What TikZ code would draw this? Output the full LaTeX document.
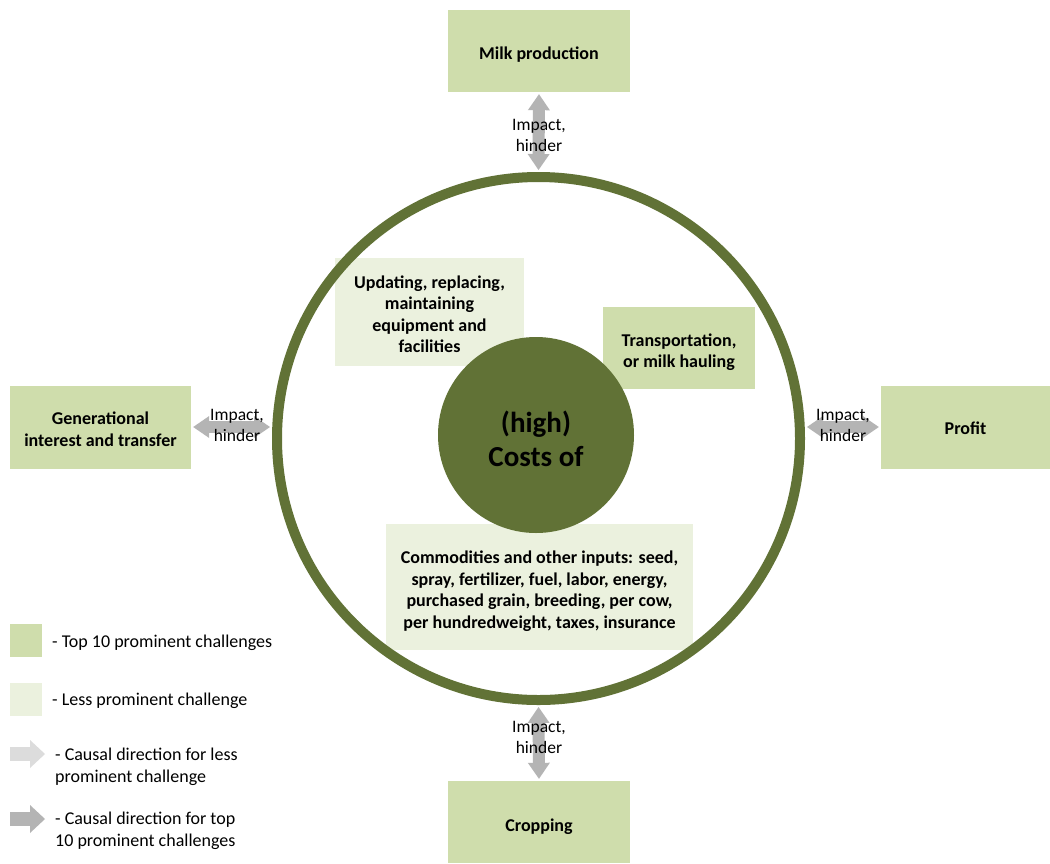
\documentclass[tikz,border=0pt]{standalone}
\usepackage{fontspec}
\setmainfont{Carlito}
\usetikzlibrary{arrows.meta}
\definecolor{topgreen}{HTML}{CFDDAC}
\definecolor{lessgreen}{HTML}{EBF1DE}
\definecolor{darkolive}{HTML}{617236}
\definecolor{arrowgray}{HTML}{B4B4B4}
\definecolor{lightarrow}{HTML}{DCDCDC}
\begin{document}
\begin{tikzpicture}[x=1pt,y=-1pt,
  topbox/.style={fill=topgreen, draw=none, inner sep=0pt},
  lessbox/.style={fill=lessgreen, draw=none, inner sep=0pt},
  boxtext/.style={align=center, inner sep=0pt,
    font=\bfseries\fontsize{18}{21.5}\selectfont},
  impact/.style={font=\fontsize{17.5}{21}\selectfont, align=center, inner sep=0pt},
  legtext/.style={font=\fontsize{18}{22}\selectfont, align=left, inner sep=0pt, anchor=west},
  dblarrow/.style={draw=arrowgray, line width=12pt,
    {Triangle[width=22pt,length=16pt,line width=0pt]}-{Triangle[width=22pt,length=16pt,line width=0pt]},
    shorten <=2pt, shorten >=2pt},
  legarrow/.style={line width=14pt,
    -{Triangle[width=28pt,length=15pt,line width=0pt]}}
]
\useasboundingbox (0,0) rectangle (1050,863);
\fill[white] (0,0) rectangle (1050,863);

% outer boxes
\node[topbox, minimum width=182pt, minimum height=82pt] (milk) at (539,51) {};
\node[boxtext] (milkt) at ([yshift=-4pt]milk.center) {Milk production};
\node[topbox, minimum width=181pt, minimum height=83pt] (gen) at (100.5,427) {};
\node[boxtext] (gent) at ([yshift=-2pt]gen.center) {Generational\\interest and transfer};
\node[topbox, minimum width=169pt, minimum height=83pt] (profit) at (965.5,427) {};
\node[boxtext] (profitt) at ([yshift=-1pt]profit.center) {Profit};
\node[topbox, minimum width=182pt, minimum height=82pt] (crop) at (539,822) {};
\node[boxtext] (cropt) at ([yshift=-5pt]crop.center) {Cropping};

% inner boxes
\node[lessbox, minimum width=189pt, minimum height=108pt] (upd) at (429.5,312) {};
\node[boxtext] (updt) at ([yshift=-2pt]upd.center) {Updating, replacing,\\maintaining\\equipment and\\facilities};
\node[topbox, minimum width=152pt, minimum height=82pt] (trans) at (679,348) {};
\node[boxtext] (transt) at ([yshift=-4pt]trans.center) {Transportation,\\or milk hauling};
\node[lessbox, minimum width=307pt, minimum height=126pt] (comm) at (539.5,587) {};
\node[boxtext] (commt) at ([yshift=-4pt]comm.center) {Commodities and other inputs: seed,\\spray, fertilizer, fuel, labor, energy,\\purchased grain, breeding, per cow,\\per hundredweight, taxes, insurance};

% ring and core
\node[circle, draw=darkolive, line width=10pt, minimum size=523pt, inner sep=0pt] (ring) at (538.5,438.5) {};
\node[circle, fill=darkolive, minimum size=196pt, inner sep=0pt] (core) at (536,435) {};
\node[align=center, inner sep=0pt, font=\bfseries\fontsize{29}{34}\selectfont] (coret) at ([yshift=-3.5pt]core.center) {(high)\\Costs of};

% connectors
\draw[dblarrow] (milk.south) -- (ring.north);
\draw[dblarrow] (crop.north) -- (ring.south);
\draw[dblarrow] (gen.east) -- (gen.east -| ring.west);
\draw[dblarrow] (profit.west) -- (profit.west -| ring.east);

% labels
\node[impact] (l1) at (539,135) {Impact,\\hinder};
\node[impact] (l2) at (539,737) {Impact,\\hinder};
\node[impact] (l3) at (237,425) {Impact,\\hinder};
\node[impact] (l4) at (843,425) {Impact,\\hinder};

% legend
\node[fill=topgreen, minimum width=32pt, minimum height=33pt, inner sep=0pt] (sq1) at (26,640.5) {};
\node[fill=lessgreen, minimum width=32pt, minimum height=33pt, inner sep=0pt] (sq2) at (26,699.5) {};
\coordinate (a1s) at (10,754);
\coordinate (a1e) at (45,754);
\coordinate (a2s) at (10,819);
\coordinate (a2e) at (45,819);
\draw[legarrow, draw=lightarrow] (a1s) -- (a1e);
\draw[legarrow, draw=arrowgray] (a2s) -- (a2e);
\node[legtext] (t1) at (52,643) {- Top 10 prominent challenges};
\node[legtext] (t2) at (52,701) {- Less prominent challenge};
\node[legtext] (t3) at (55,767) {- Causal direction for less\\prominent challenge};
\node[legtext] (t4) at (55,831) {- Causal direction for top\\10 prominent challenges};
\end{tikzpicture}
\end{document}
